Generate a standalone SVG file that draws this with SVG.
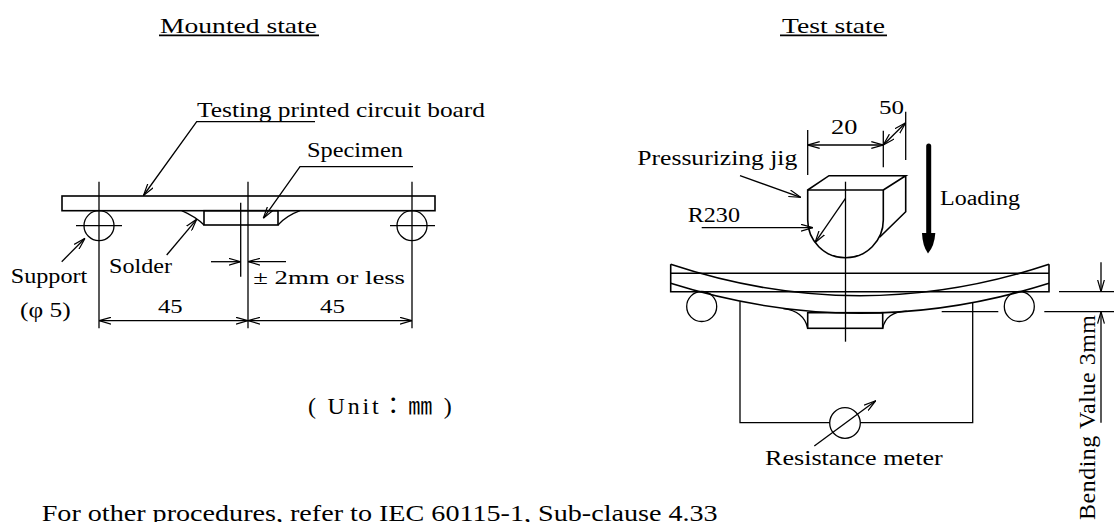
<svg xmlns="http://www.w3.org/2000/svg" width="1114" height="522" viewBox="0 0 1114 522" font-family="Liberation Serif, Times New Roman, serif">
<style>
 .ln{fill:none;stroke:#000;stroke-width:1.3}
 .bd{fill:none;stroke:#000;stroke-width:1.6}
 text{font-family:"Liberation Serif","Times New Roman",serif;fill:#000}
 .a{marker-end:url(#ah)}
 .aa{marker-start:url(#ah);marker-end:url(#ah)}
</style>
<defs>
 <marker id="ah" viewBox="0 0 12 8" refX="12" refY="4" markerWidth="12" markerHeight="8" orient="auto-start-reverse" markerUnits="userSpaceOnUse">
  <path d="M0,0.6 L12,4 L0,7.4" fill="none" stroke="#000" stroke-width="1.2"/>
 </marker>
</defs>
<rect width="1114" height="522" fill="#fff"/>

<g id="title-mounted">
 <text font-family="Liberation Serif, serif" x="160" y="32.5" font-size="22" textLength="157" lengthAdjust="spacingAndGlyphs">Mounted state</text>
 <line x1="159" y1="35.3" x2="319" y2="35.3" stroke="#000" stroke-width="1.8"/>
</g>
<g id="title-test">
 <text font-family="Liberation Serif, serif" x="782" y="32.5" font-size="22" textLength="103" lengthAdjust="spacingAndGlyphs">Test state</text>
 <line x1="780" y1="35.3" x2="887" y2="35.3" stroke="#000" stroke-width="1.8"/>
</g>

<!-- Mounted state -->
<g id="mounted-board">
 <rect class="bd" x="62" y="196" width="373" height="14.7"/>
</g>
<g id="mounted-specimen">
 <rect class="bd" x="204" y="210.7" width="74" height="14.3"/>
 <path class="ln" d="M181.7,210.7 Q196,217 204,225 M278,225 Q286,216 300,210.7"/>
</g>
<g id="mounted-support-left">
 <circle class="ln" cx="99" cy="225.7" r="15"/>
 <line class="ln" x1="76" y1="225.7" x2="122" y2="225.7"/>
</g>
<g id="mounted-support-right">
 <circle class="ln" cx="412" cy="225.7" r="15"/>
 <line class="ln" x1="390" y1="225.7" x2="435" y2="225.7"/>
</g>
<g id="mounted-labels" font-family="Liberation Serif, serif">
 <text x="197" y="117.3" font-size="21" textLength="288" lengthAdjust="spacingAndGlyphs">Testing printed circuit board</text>
 <text x="307" y="156.7" font-size="20" textLength="96" lengthAdjust="spacingAndGlyphs">Specimen</text>
 <text x="109" y="273.3" font-size="20.5" textLength="63" lengthAdjust="spacingAndGlyphs">Solder</text>
 <text x="10.7" y="282.7" font-size="21" textLength="76.6" lengthAdjust="spacingAndGlyphs">Support</text>
 <text x="20" y="316.7" font-size="20" textLength="50.7" lengthAdjust="spacingAndGlyphs">(φ 5)</text>
 <text x="158" y="313.3" font-size="19.5" textLength="24.7" lengthAdjust="spacingAndGlyphs">45</text>
 <text x="320" y="313.3" font-size="19.5" textLength="25" lengthAdjust="spacingAndGlyphs">45</text>
 <text x="253.3" y="284" font-size="19" textLength="151.7" lengthAdjust="spacingAndGlyphs">± 2mm or less</text>
</g>
<g id="unit-note">
 <text x="308" y="414" font-size="24" textLength="143.7" font-family="Liberation Serif, Noto Sans CJK JP, serif" style="font-family:'Liberation Serif','Noto Sans CJK JP',serif">( Unit：㎜ )</text>
</g>
<g id="footnote">
 <text font-family="Liberation Serif, serif" x="41.7" y="521" font-size="24" textLength="676" lengthAdjust="spacingAndGlyphs">For other procedures, refer to IEC 60115-1, Sub-clause 4.33</text>
</g>

<!-- Test state -->
<g id="test-board">
 <path class="bd" d="M670.7,264.3 L670.7,291.7 L1049,291.7 L1049,264.3 M670.7,273.3 L1049,273.3"/>
 <path class="bd" d="M670.7,264.3 Q860,327.1 1049,264.3 M670.7,283.3 Q860,343.1 1049,283.3"/>
</g>
<g id="test-specimen">
 <rect class="bd" x="807.7" y="312.7" width="75" height="15.6"/>
 <path class="ln" d="M783.3,308.6 Q804,311 807.7,328.3 M882.7,328.3 Q886,312 906.7,311.2"/>
</g>
<g id="test-support-left"><circle class="ln" cx="701.7" cy="306.5" r="15"/></g>
<g id="test-support-right"><circle class="ln" cx="1019.3" cy="306.5" r="15"/></g>
<g id="jig">
 <path class="bd" d="M807.7,190 L807.7,220 A37.8,37.8 0 0 0 883.3,220 L883.3,190 Z"/>
 <path class="bd" d="M807.7,190 L829,175.7 L905.7,175.7 L883.3,190 M905.7,175.7 L905.7,211.7 L879.6,237.2"/>
</g>
<g id="meter">
 <circle class="ln" cx="845" cy="423" r="15.3"/>
 <line class="ln a" x1="814.3" y1="446" x2="875.7" y2="400.7"/>
</g>
<g id="loading-arrow">
 <line x1="928.7" y1="146" x2="928.7" y2="236" stroke="#000" stroke-width="5" stroke-linecap="round"/>
 <path d="M922,233 Q922.5,246 928,253.5 Q934.5,246 935.3,233 Z" fill="#000"/>
</g>
<g id="test-labels" font-family="Liberation Serif, serif">
 <text x="637.3" y="165" font-size="22" textLength="160" lengthAdjust="spacingAndGlyphs">Pressurizing jig</text>
 <text x="687.7" y="221.7" font-size="21.5" textLength="52.3" lengthAdjust="spacingAndGlyphs">R230</text>
 <text x="831" y="134.3" font-size="20" textLength="26.3" lengthAdjust="spacingAndGlyphs">20</text>
 <text x="879" y="114.3" font-size="19" textLength="25" lengthAdjust="spacingAndGlyphs">50</text>
 <text x="940" y="205" font-size="20" textLength="80" lengthAdjust="spacingAndGlyphs">Loading</text>
 <text x="765" y="465" font-size="21" textLength="177.7" lengthAdjust="spacingAndGlyphs">Resistance meter</text>
 <text font-size="24" textLength="205" transform="translate(1095,520) rotate(-90)">Bending Value 3mm</text>
</g>

<g id="connectors">
 <line class="ln" x1="99" y1="181.7" x2="99" y2="328.3"/>
 <line class="ln" x1="248" y1="181.7" x2="248" y2="328.3"/>
 <line class="ln" x1="412" y1="181.7" x2="412" y2="328.3"/>
 <line class="ln" x1="240.7" y1="202.7" x2="240.7" y2="276.7"/>
 <line class="ln aa" x1="99" y1="320.7" x2="248" y2="320.7"/>
 <line class="ln aa" x1="248" y1="320.7" x2="412" y2="320.7"/>
 <line class="ln a" x1="211" y1="261.7" x2="240.7" y2="261.7"/>
 <line class="ln a" x1="286" y1="261.7" x2="248" y2="261.7"/>
 <polyline class="ln a" points="315,121.7 196.7,121.7 143.5,195.5"/>
 <polyline class="ln a" points="413,166.7 300,166.7 263.3,218.3"/>
 <line class="ln a" x1="166.7" y1="255" x2="196.7" y2="219.3"/>
 <line class="ln a" x1="61.7" y1="261.7" x2="85" y2="238.3"/>

 <line class="ln" x1="845.5" y1="181.7" x2="845.5" y2="341.7"/>
 <line class="ln" x1="807.7" y1="130" x2="807.7" y2="175"/>
 <line class="ln" x1="883.3" y1="130.7" x2="883.3" y2="167.3"/>
 <line class="ln" x1="905.7" y1="111.7" x2="905.7" y2="160"/>
 <line class="ln aa" x1="807.7" y1="145" x2="883.3" y2="145"/>
 <line class="ln aa" x1="883.3" y1="145" x2="905.7" y2="122.7"/>
 <line class="ln a" x1="740" y1="175.7" x2="800.7" y2="197.3"/>
 <line class="ln a" x1="701.7" y1="227.7" x2="813" y2="227.7"/>
 <line class="ln a" x1="845.5" y1="198.3" x2="815" y2="242.7"/>
 <polyline class="ln" points="740,301.5 740,422.7 829.7,422.7"/>
 <polyline class="ln" points="972.7,302.2 972.7,422.7 860.3,422.7"/>
 <line class="ln" x1="1059" y1="291.7" x2="1114" y2="291.7"/>
 <line class="ln" x1="941.7" y1="311.7" x2="998.3" y2="311.7"/>
 <line class="ln" x1="1044.3" y1="311.7" x2="1114" y2="311.7"/>
 <line class="ln a" x1="1101" y1="262.3" x2="1101" y2="291.7"/>
 <line class="ln a" x1="1101" y1="422.7" x2="1101" y2="311.7"/>
</g>
</svg>
